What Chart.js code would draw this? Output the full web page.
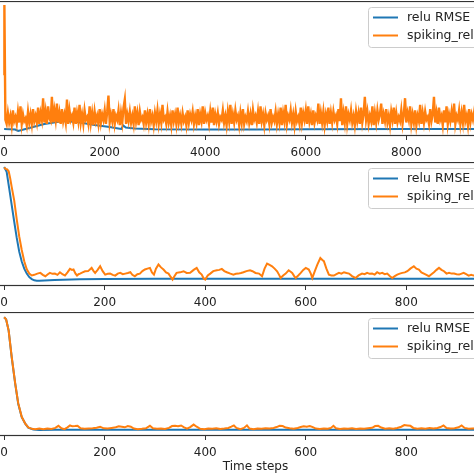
<!DOCTYPE html>
<html lang="en">

<head>
    <meta charset="UTF-8">
    <title>RMSE</title>
    <script src="https://cdn.jsdelivr.net/npm/chart.js"></script>
    <style>
        body { margin: 0; width: 474px; height: 474px; overflow: hidden; background: #fff; position: relative; }
        canvas { position: absolute; left: -21px; }
    </style>
</head>

<body>
    <canvas id="c1" width="553" height="161" style="top:1px"></canvas>
    <canvas id="c2" width="553" height="150" style="top:162px"></canvas>
    <canvas id="c3" width="553" height="166" style="top:312px"></canvas>

    <script>
        // ---- data (arbitrary RMSE units 0..1 of each panel) ----
        var labels = ['relu RMSE', 'spiking_relu RMSE']

        // panel 1: 10000 time steps
        var ticks1 = [0, 2000, 4000, 6000, 8000, 10000]
        var reluT1 = [0, 220, 280, 500, 800, 1180, 1450, 1800, 2100, 2270, 2330, 2370, 2420, 2600, 3000, 4000, 5000, 6000, 8000, 10000]
        var reluV1 = [0.052, 0.048, 0.037, 0.059, 0.089, 0.111, 0.104, 0.081, 0.067, 0.056, 0.052, 0.078, 0.063, 0.056, 0.05, 0.048, 0.048, 0.05, 0.052, 0.052]
        var spikeStartT1 = [0, 5]
        var spikeStartV1 = [0.45, 0.97]
        var spikeStep1 = 25 // following samples every 25 steps, from t=25
        var spikeV1 = [
            0.12,0.09,0.17,0.10,0.15,0.08,0.19,0.11,0.14,0.09,0.18,0.10,0.22,0.09,0.16,0.11,0.13,0.08,0.18,0.10,
            0.16,0.09,0.20,0.11,0.15,0.10,0.21,0.09,0.17,0.12,0.28,0.10,0.18,0.09,0.22,0.13,0.11,0.29,0.10,0.19,
            0.12,0.24,0.10,0.17,0.09,0.20,0.11,0.16,0.10,0.27,0.09,0.19,0.12,0.15,0.10,0.21,0.09,0.17,0.11,0.23,
            0.10,0.16,0.09,0.19,0.12,0.14,0.09,0.22,0.10,0.17,0.08,0.18,0.11,0.15,0.09,0.20,0.10,0.16,0.12,0.19,
            0.09,0.18,0.30,0.10,0.16,0.11,0.20,0.09,0.15,0.12,0.19,0.08,0.17,0.10,0.21,0.27,0.09,0.16,0.11,0.18,
            0.10,0.15,0.09,0.22,0.11,0.17,0.08,0.18,0.12,0.14,0.09,0.19,0.10,0.16,0.09,0.20,0.11,0.15,0.08,0.17,
            0.11,0.19,0.09,0.16,0.10,0.23,0.12,0.14,0.09,0.18,0.10,0.15,0.08,0.19,0.11,0.16,0.09,0.21,0.10,0.15,
            0.09,0.17,0.11,0.14,0.08,0.19,0.10,0.16,0.12,0.18,0.09,0.15,0.10,0.20,0.08,0.16,0.11,0.22,0.09,0.17,
            0.12,0.15,0.09,0.18,0.10,0.21,0.08,0.16,0.11,0.17,0.09,0.14,0.12,0.19,0.10,0.15,0.08,0.18,0.11,0.23,
            0.09,0.16,0.10,0.19,0.12,0.15,0.08,0.17,0.10,0.20,0.09,0.14,0.11,0.18,0.10,0.16,0.08,0.19,0.12,0.15,
            0.10,0.18,0.09,0.22,0.11,0.16,0.08,0.17,0.12,0.15,0.09,0.20,0.10,0.14,0.11,0.18,0.09,0.16,0.10,0.21,
            0.08,0.17,0.11,0.23,0.09,0.15,0.12,0.19,0.10,0.16,0.08,0.18,0.11,0.14,0.09,0.21,0.10,0.17,0.12,0.19,
            0.09,0.22,0.11,0.16,0.08,0.19,0.10,0.15,0.12,0.24,0.09,0.17,0.10,0.18,0.08,0.16,0.11,0.21,0.09,0.17,
            0.10,0.18,0.12,0.15,0.09,0.20,0.11,0.28,0.08,0.17,0.10,0.22,0.09,0.16,0.12,0.19,0.10,0.15,0.08,0.18,
            0.11,0.17,0.09,0.21,0.10,0.16,0.29,0.12,0.18,0.09,0.15,0.11,0.22,0.08,0.17,0.10,0.19,0.12,0.16,0.24,
            0.09,0.16,0.11,0.20,0.10,0.15,0.08,0.18,0.12,0.21,0.09,0.17,0.10,0.14,0.11,0.19,0.09,0.16,0.28,0.10,
            0.17,0.12,0.22,0.09,0.16,0.10,0.19,0.08,0.15,0.11,0.23,0.09,0.17,0.10,0.18,0.12,0.14,0.09,0.20,0.11,
            0.16,0.29,0.10,0.17,0.09,0.21,0.12,0.15,0.08,0.19,0.10,0.22,0.09,0.16,0.11,0.18,0.10,0.24,0.09,0.15,
            0.12,0.19,0.09,0.17,0.10,0.23,0.11,0.15,0.08,0.20,0.10,0.16,0.12,0.18,0.09,0.27,0.10,0.17,0.11,0.15,
            0.09,0.21,0.10,0.16,0.12,0.18,0.08,0.22,0.11,0.15,0.09,0.19,0.10,0.26,0.12,0.17,0.09,0.20,0.11,0.16
        ]

        // panel 2: 1000 time steps
        var ticks2 = [0, 200, 400, 600, 800, 1000]
        var reluT2 = [0, 5, 10, 15, 20, 25, 30, 35, 40, 45, 50, 55, 60, 65, 70, 80, 100, 150, 200, 300, 500, 700, 999]
        var reluV2 = [0.96, 0.92, 0.79, 0.655, 0.52, 0.39, 0.277, 0.197, 0.14, 0.10, 0.072, 0.056, 0.046, 0.042, 0.042, 0.044, 0.048, 0.054, 0.056, 0.058, 0.058, 0.058, 0.058]
        var spikeT2 = [0, 3, 6, 9, 12, 15, 20, 25, 30, 35, 40, 45, 50, 55, 60, 66, 72, 77, 82, 87, 91, 96, 101, 106, 111, 116, 121, 126, 131, 135, 138, 142, 145, 148, 151, 156, 161, 167, 174, 178, 181, 186, 191, 196,
            201, 206, 211, 216, 221, 226, 231, 236, 241, 246, 251, 255, 260, 265, 270, 275, 280, 285, 290, 294, 298, 302, 307, 312, 317, 322, 327, 331, 335, 339, 343, 350, 357, 363, 370, 377, 383, 388, 393, 397,
            400, 405, 410, 416, 423, 428, 433, 438, 443, 450, 456, 461, 466, 471, 476, 482, 489, 494, 500, 507, 513, 518, 523, 528, 533, 538, 543, 547, 550, 555, 560, 566, 570, 573, 577, 580, 585, 590, 595,
            600, 606, 610, 613, 618, 623, 629, 633, 636, 641, 646, 651, 656, 661, 666, 671, 676, 681, 686, 692, 699, 705, 712, 717, 722, 727, 732, 737, 742, 747, 752, 757, 762, 767, 772, 777, 782, 787, 792, 797,
            802, 808, 815, 820, 825, 830, 835, 840, 845, 850, 855, 860, 865, 870, 875, 880, 885, 890, 895, 900, 905, 910, 914, 919, 924, 929, 934, 945, 955, 965, 980, 999]
        var spikeV2 = [0.955, 0.945, 0.94, 0.925, 0.87, 0.80, 0.69, 0.54, 0.40, 0.29, 0.20, 0.135, 0.10, 0.085, 0.09, 0.10, 0.106, 0.09, 0.079, 0.095, 0.106, 0.098, 0.10, 0.09, 0.111, 0.095, 0.084, 0.11, 0.138, 0.13, 0.133, 0.10, 0.084, 0.095, 0.10, 0.11, 0.119, 0.12, 0.146, 0.12, 0.106, 0.13, 0.159, 0.12,
            0.092, 0.098, 0.10, 0.09, 0.084, 0.10, 0.106, 0.095, 0.10, 0.105, 0.111, 0.09, 0.079, 0.095, 0.10, 0.12, 0.133, 0.14, 0.146, 0.11, 0.092, 0.14, 0.173, 0.15, 0.133, 0.11, 0.10, 0.075, 0.052, 0.08, 0.106, 0.11, 0.119, 0.105, 0.106, 0.13, 0.146, 0.11, 0.092, 0.06,
            0.052, 0.085, 0.10, 0.12, 0.127, 0.13, 0.138, 0.12, 0.111, 0.10, 0.092, 0.098, 0.10, 0.105, 0.111, 0.12, 0.127, 0.119, 0.105, 0.10, 0.079, 0.14, 0.181, 0.17, 0.159, 0.14, 0.119, 0.09, 0.065, 0.085, 0.10, 0.127, 0.115, 0.106, 0.08, 0.065, 0.085, 0.106, 0.13,
            0.146, 0.133, 0.10, 0.065, 0.12, 0.173, 0.226, 0.21, 0.20, 0.14, 0.092, 0.085, 0.084, 0.095, 0.106, 0.10, 0.111, 0.105, 0.10, 0.08, 0.065, 0.085, 0.10, 0.095, 0.106, 0.098, 0.10, 0.092, 0.111, 0.10, 0.106, 0.095, 0.10, 0.08, 0.065, 0.08, 0.092, 0.10, 0.106, 0.11,
            0.119, 0.14, 0.159, 0.14, 0.133, 0.11, 0.10, 0.09, 0.079, 0.095, 0.111, 0.13, 0.146, 0.13, 0.119, 0.10, 0.106, 0.10, 0.10, 0.095, 0.092, 0.10, 0.106, 0.095, 0.084, 0.09, 0.084, 0.095, 0.09, 0.10, 0.09, 0.095]

        // panel 3: 1000 time steps
        var ticks3 = [0, 200, 400, 600, 800, 1000]
        var reluT3 = [0, 4, 9, 15, 22, 28, 35, 42, 48, 58, 70, 100, 300, 600, 999]
        var reluV3 = [0.958, 0.94, 0.85, 0.636, 0.423, 0.26, 0.152, 0.10, 0.068, 0.052, 0.048, 0.05, 0.05, 0.05, 0.05]
        var spikeT3 = [0, 4, 9, 15, 22, 28, 35, 42, 48, 55, 62, 70, 78, 86, 94, 102, 108, 114, 120, 126, 131, 136, 141, 146, 152, 160, 168, 176, 184, 191, 198,
            206, 214, 222, 228, 234, 240, 246, 252, 258, 266, 274, 282, 290, 296, 304, 312, 320, 328, 334, 340, 346, 352, 358, 364, 370, 377, 383, 390, 398,
            406, 414, 422, 430, 438, 446, 452, 457, 462, 470, 477, 483, 488, 496, 504, 512, 520, 528, 536, 542, 548, 554, 560, 568, 576, 584, 590, 596,
            602, 608, 614, 620, 628, 636, 644, 650, 655, 660, 668, 676, 684, 692, 700, 708, 716, 724, 732, 738, 744, 750, 758, 766, 774, 782, 790, 796,
            802, 808, 814, 822, 830, 838, 846, 854, 862, 868, 874, 880, 888, 896, 904, 910, 916, 924, 932, 945, 960, 980, 999]
        var spikeV3 = [0.958, 0.94, 0.85, 0.64, 0.425, 0.265, 0.155, 0.10, 0.07, 0.058, 0.055, 0.06, 0.055, 0.06, 0.056, 0.065, 0.082, 0.062, 0.055, 0.07, 0.085, 0.078, 0.08, 0.083, 0.062, 0.058, 0.06, 0.062, 0.066, 0.075, 0.062,
            0.06, 0.065, 0.07, 0.078, 0.075, 0.07, 0.08, 0.075, 0.06, 0.055, 0.058, 0.062, 0.082, 0.062, 0.058, 0.06, 0.056, 0.065, 0.08, 0.082, 0.078, 0.085, 0.07, 0.06, 0.072, 0.092, 0.075, 0.058, 0.055,
            0.06, 0.058, 0.062, 0.056, 0.06, 0.065, 0.075, 0.085, 0.065, 0.055, 0.065, 0.086, 0.06, 0.055, 0.06, 0.058, 0.062, 0.06, 0.065, 0.072, 0.082, 0.08, 0.068, 0.062, 0.058, 0.065, 0.072, 0.078,
            0.075, 0.08, 0.072, 0.06, 0.056, 0.06, 0.058, 0.065, 0.082, 0.062, 0.056, 0.06, 0.058, 0.062, 0.056, 0.06, 0.058, 0.062, 0.066, 0.08, 0.082, 0.068, 0.058, 0.062, 0.058, 0.065, 0.075, 0.088,
            0.085, 0.082, 0.065, 0.058, 0.062, 0.058, 0.064, 0.06, 0.065, 0.072, 0.085, 0.065, 0.06, 0.062, 0.07, 0.085, 0.065, 0.058, 0.06, 0.062, 0.058, 0.06, 0.058]

        // ---- drawing ----
        var azul = '#1f77b4'
        var laranja = '#ff7f0e'
        var fonte = 'DejaVu Sans'

        function pontos(t, v) {
            var out = []
            for (var i = 0; i < v.length; i++) {
                out.push({ x: t[i], y: v[i] })
            }
            return out
        }

        // frame + matplotlib style legend in the upper right
        var molduraLegenda = {
            id: 'molduraLegenda',
            afterDatasetsDraw: function (chart) {
                var ctx = chart.ctx
                var a = chart.chartArea
                ctx.save()
                ctx.strokeStyle = '#333'
                ctx.lineWidth = 1.2
                ctx.strokeRect(a.left + 0.5, a.top + 0.5, a.right - a.left - 1, a.bottom - a.top - 1)

                ctx.font = '12.5px "' + fonte + '"'
                var larg = 0
                chart.data.datasets.forEach(function (d) {
                    larg = Math.max(larg, ctx.measureText(d.label).width)
                })
                var w = 39 + larg + 6
                var h = 40
                var x = a.right - 164
                var y = a.top + 6
                ctx.beginPath()
                ctx.roundRect(x + 0.5, y + 0.5, w, h, 3)
                ctx.fillStyle = 'rgba(255,255,255,0.8)'
                ctx.fill()
                ctx.strokeStyle = '#cccccc'
                ctx.lineWidth = 1
                ctx.stroke()

                ctx.textBaseline = 'middle'
                chart.data.datasets.forEach(function (d, i) {
                    var ly = y + 10.5 + i * 18
                    ctx.strokeStyle = d.borderColor
                    ctx.lineWidth = 2
                    ctx.beginPath()
                    ctx.moveTo(x + 5, ly)
                    ctx.lineTo(x + 30, ly)
                    ctx.stroke()
                    ctx.fillStyle = '#222'
                    ctx.fillText(d.label, x + 39, ly)
                })
                ctx.restore()
            }
        }

        function grafico(id, reluDados, spikeDados, xMin, xMax, marcas, alturaEixo, espessura, titulo) {
            new Chart(document.getElementById(id), {
                type: 'line',
                data: {
                    datasets: [{
                        label: labels[0],
                        data: reluDados,
                        borderColor: azul,
                        borderWidth: 2,
                        order: 1
                    }, {
                        label: labels[1],
                        data: spikeDados,
                        borderColor: laranja,
                        borderWidth: espessura,
                        order: 0
                    }]
                },
                options: {
                    responsive: false,
                    animation: false,
                    devicePixelRatio: 1,
                    layout: { padding: 0 },
                    elements: { point: { radius: 0 }, line: { tension: 0 } },
                    plugins: { legend: { display: false }, tooltip: { enabled: false } },
                    scales: {
                        x: {
                            type: 'linear',
                            min: xMin,
                            max: xMax,
                            afterBuildTicks: function (s) {
                                s.ticks = marcas.map(function (v) { return { value: v } })
                            },
                            afterFit: function (s) { s.height = alturaEixo },
                            border: { display: false },
                            grid: { drawOnChartArea: false, tickLength: 4, color: '#333' },
                            ticks: {
                                padding: 5.5,
                                color: '#222',
                                font: { family: fonte, size: 12 },
                                maxRotation: 0,
                                callback: function (v) { return String(v) }
                            },
                            title: {
                                display: !!titulo,
                                text: titulo || '',
                                color: '#222',
                                padding: { top: 0, bottom: 4 },
                                font: { family: fonte, size: 12 }
                            }
                        },
                        y: { display: false, min: 0, max: 1 }
                    }
                },
                plugins: [molduraLegenda]
            })
        }

        var spikeT1 = spikeStartT1.slice()
        var spikeAll1 = spikeStartV1.slice()
        for (var i = 0; i < spikeV1.length; i++) {
            spikeT1.push((i + 1) * spikeStep1)
            spikeAll1.push(spikeV1[i])
        }

        grafico('c1', pontos(reluT1, reluV1), pontos(spikeT1, spikeAll1), -500, 10500, ticks1, 26, 2.4)
        grafico('c2', pontos(reluT2, reluV2), pontos(spikeT2, spikeV2), -50, 1050, ticks2, 26, 2)
        grafico('c3', pontos(reluT3, reluV3), pontos(spikeT3, spikeV3), -50, 1050, ticks3, 42, 2, 'Time steps')
    </script>
</body>
</html>
